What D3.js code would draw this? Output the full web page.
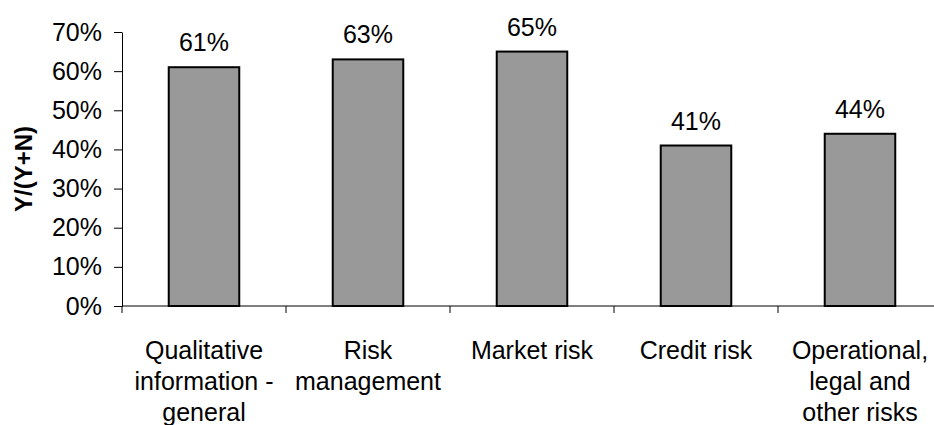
<!DOCTYPE html>
<html>
<head>
<meta charset="utf-8">
<script src="https://cdn.jsdelivr.net/npm/d3@7"></script>
<style>
  html, body { margin: 0; padding: 0; background: #fff; }
  svg { display: block; font-family: "Liberation Sans", Arial, sans-serif; }
</style>
</head>
<body>
<svg id="chart" width="934" height="425"></svg>
<script>
const categories = [
  "Qualitative information - general",
  "Risk management",
  "Market risk",
  "Credit risk",
  "Operational, legal and other risks"
];
const categoryLines = [
  ["Qualitative", "information -", "general"],
  ["Risk", "management"],
  ["Market risk"],
  ["Credit risk"],
  ["Operational,", "legal and", "other risks"]
];
const values = [0.61, 0.63, 0.65, 0.41, 0.44];
const yTicks = [0, 0.1, 0.2, 0.3, 0.4, 0.5, 0.6, 0.7];
const yTitle = "Y/(Y+N)";

const svg = d3.select("#chart");
const mLeft = 122, mRight = 942, mTop = 32, mBottom = 306;

const x = d3.scaleBand().domain(categories).range([mLeft, mRight]).padding(0);
const y = d3.scaleLinear().domain([0, 0.7]).range([mBottom, mTop]);
const fmt = d3.format(".0%");

// Y axis
const yAxis = svg.append("g")
  .attr("transform", `translate(${mLeft},0)`)
  .call(d3.axisLeft(y).tickValues(yTicks).tickFormat(fmt).tickSize(8).tickSizeOuter(0).tickPadding(12));
yAxis.selectAll("text").attr("font-size", 25).attr("fill", "#000").attr("font-family", "Liberation Sans, Arial, sans-serif");
yAxis.selectAll("line, path").attr("stroke", "#000");

// X axis line + boundary ticks
svg.append("line")
  .attr("x1", mLeft).attr("x2", mRight)
  .attr("y1", y(0)).attr("y2", y(0))
  .attr("stroke", "#000");
const boundaries = categories.map(c => x(c)).concat([x(categories[categories.length - 1]) + x.bandwidth()]);
svg.append("g").selectAll("line").data(boundaries).join("line")
  .attr("x1", d => d).attr("x2", d => d)
  .attr("y1", y(0)).attr("y2", y(0) + 7)
  .attr("stroke", "#000");

// Bars
const barW = x.bandwidth() * 0.43;
svg.append("g").selectAll("rect").data(values).join("rect")
  .attr("x", (d, i) => x(categories[i]) + x.bandwidth() / 2 - barW / 2)
  .attr("width", barW)
  .attr("y", d => y(d))
  .attr("height", d => y(0) - y(d))
  .attr("fill", "#999999")
  .attr("stroke", "#000")
  .attr("stroke-width", 2);

// Value labels
svg.append("g").selectAll("text").data(values).join("text")
  .attr("x", (d, i) => x(categories[i]) + x.bandwidth() / 2)
  .attr("y", d => y(d) - 16)
  .attr("text-anchor", "middle")
  .attr("font-size", 25)
  .attr("fill", "#000")
  .text(d => fmt(d));

// Category labels
const catG = svg.append("g").selectAll("text").data(categoryLines).join("text")
  .attr("text-anchor", "middle")
  .attr("font-size", 25)
  .attr("fill", "#000")
  .attr("x", (d, i) => x(categories[i]) + x.bandwidth() / 2)
  .attr("y", 359);
catG.selectAll("tspan").data((d, i) => d.map(l => ({ l, i }))).join("tspan")
  .attr("x", d => x(categories[d.i]) + x.bandwidth() / 2)
  .attr("dy", (d, j) => j === 0 ? 0 : 31)
  .text(d => d.l);

// Y title
svg.append("text")
  .attr("transform", `translate(32,${(mTop + mBottom) / 2}) rotate(-90)`)
  .attr("text-anchor", "middle")
  .attr("font-size", 24)
  .attr("font-weight", "bold")
  .attr("fill", "#000")
  .text(yTitle);
</script>
</body>
</html>
